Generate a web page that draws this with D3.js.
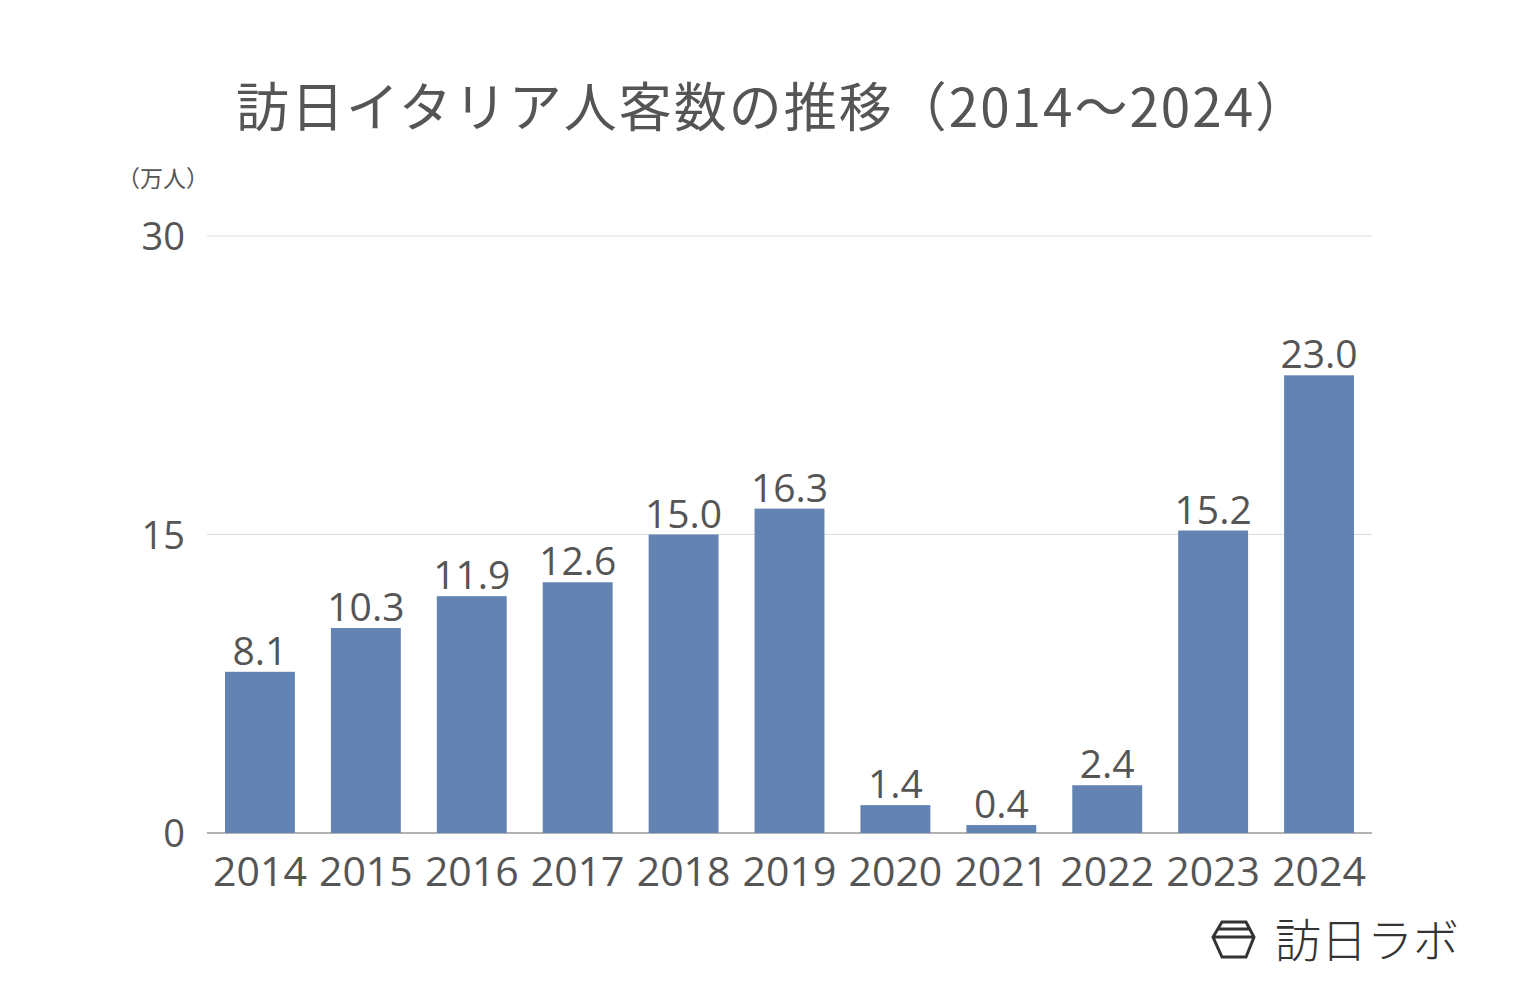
<!DOCTYPE html><html><head><meta charset="utf-8"><script src="https://cdn.jsdelivr.net/npm/d3@7"></script>
<style>body{margin:0;background:#fff}</style></head><body><svg id="c" width="1536" height="1006"></svg>
<script>
const years=["2014","2015","2016","2017","2018","2019","2020","2021","2022","2023","2024"];
const values=[8.1,10.3,11.9,12.6,15.0,16.3,1.4,0.4,2.4,15.2,23.0];
const yTicks=[0,15,30];
const svg=d3.select("#c");
const F="'Noto Sans CJK JP','Noto Sans',sans-serif";
const N="'Open Sans','Noto Sans',sans-serif";
const x=d3.scaleBand().domain(years).range([207,1372]).paddingInner(0.34).paddingOuter(0.17);
const y=d3.scaleLinear().domain([0,30]).range([833,236]);
svg.append("text").attr("x",773).attr("y",127).attr("text-anchor","middle").attr("font-family",F).attr("font-size",53).attr("letter-spacing",2).attr("fill","#555").text("訪日イタリア人客数の推移（2014〜2024）");
svg.append("text").attr("x",163).attr("y",187).attr("text-anchor","middle").attr("font-family",F).attr("font-size",23).attr("fill","#555").text("（万人）");
svg.selectAll(".g").data(yTicks).join("line").attr("x1",207).attr("x2",1372).attr("y1",d=>y(d)).attr("y2",d=>y(d)).attr("stroke",d=>d===0?"#999":"#ddd").attr("stroke-width",d=>d===0?1.5:1);
svg.selectAll(".yt").data(yTicks).join("text").attr("x",185).attr("y",d=>y(d)+14).attr("text-anchor","end").attr("font-family",N).attr("font-size",38).attr("fill","#555").text(d=>d);
svg.selectAll(".b").data(values).join("rect").attr("x",(d,i)=>x(years[i])).attr("width",x.bandwidth()).attr("y",d=>y(d)).attr("height",d=>y(0)-y(d)).attr("fill","#6383b2");
svg.selectAll(".v").data(values).join("text").attr("x",(d,i)=>x(years[i])+x.bandwidth()/2).attr("y",d=>y(d)-7).attr("text-anchor","middle").attr("font-family",N).attr("font-size",39).attr("fill","#555").text(d=>d.toFixed(1));
svg.selectAll(".xt").data(years).join("text").attr("x",d=>x(d)+x.bandwidth()/2).attr("y",886).attr("text-anchor","middle").attr("font-family",N).attr("font-size",41).attr("fill","#555").text(d=>d);
const lg=svg.append("g").attr("fill","none").attr("stroke","#333").attr("stroke-width",3);
lg.append("path").attr("d","M1222,922 L1246,922 L1254,937 L1246,957 L1222,957 L1213,937 Z M1218,929 L1250,929 M1213,937 L1254,937");
svg.append("text").attr("x",1275).attr("y",957).attr("font-family",F).attr("font-size",46).attr("font-weight",300).attr("fill","#333").text("訪日ラボ");
</script></body></html>
